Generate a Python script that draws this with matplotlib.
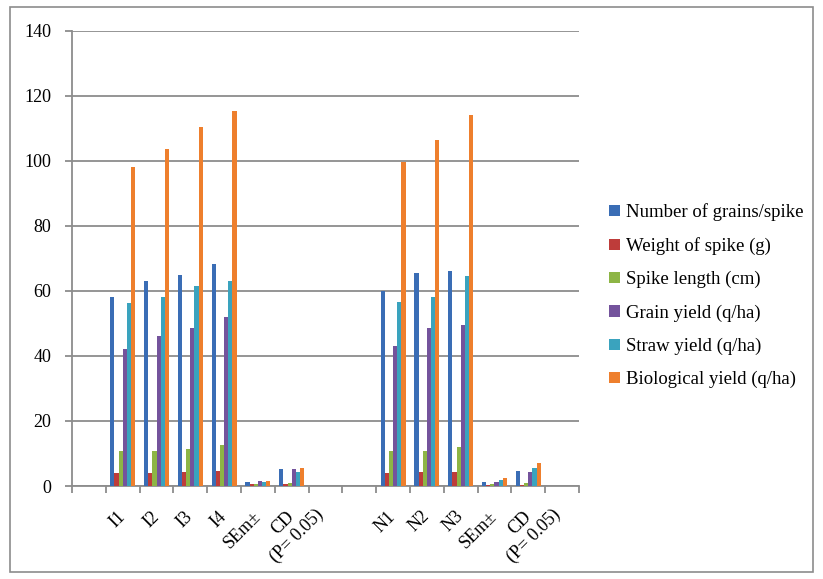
import numpy as np
import matplotlib
matplotlib.use('Agg')
import matplotlib.pyplot as plt
from matplotlib.patches import Rectangle

plt.rcParams['font.family'] = ['Liberation Serif', 'DejaVu Serif']

# categories along x (blank ones are empty slots in the original chart)
categories = ['', 'I1', 'I2', 'I3', 'I4', 'SEm\u00b1', 'CD\n(P= 0.05)', '', '',
              'N1', 'N2', 'N3', 'SEm\u00b1', 'CD\n(P= 0.05)', '']

series_names = ['Number of grains/spike', 'Weight of spike (g)', 'Spike length (cm)',
                'Grain yield (q/ha)', 'Straw yield (q/ha)', 'Biological yield (q/ha)']

grains_spike = [np.nan, 58.0, 63.2, 65.0, 68.4, 1.3, 5.2, np.nan, np.nan, 60.0, 65.5, 66.0, 1.3, 4.7, np.nan]
spike_weight = [np.nan, 3.9, 3.9, 4.3, 4.7, 0.5, 0.5, np.nan, np.nan, 3.9, 4.2, 4.2, 0.4, 0.4, np.nan]
spike_length = [np.nan, 10.8, 10.8, 11.3, 12.6, 0.6, 0.9, np.nan, np.nan, 10.8, 10.8, 12.1, 0.5, 0.9, np.nan]
grain_yield = [np.nan, 42.0, 46.0, 48.6, 52.0, 1.5, 5.2, np.nan, np.nan, 43.2, 48.6, 49.6, 1.3, 4.2, np.nan]
straw_yield = [np.nan, 56.2, 58.0, 61.6, 63.2, 1.2, 4.3, np.nan, np.nan, 56.6, 58.0, 64.5, 1.8, 5.6, np.nan]
bio_yield = [np.nan, 98.1, 103.8, 110.3, 115.5, 1.5, 5.6, np.nan, np.nan, 99.8, 106.5, 114.0, 2.4, 7.0, np.nan]

colors = ['#3A6DB5', '#BE3C3A', '#8DB545', '#74539C', '#3AA3BE', '#EE7F2D']

all_series = [grains_spike, spike_weight, spike_length, grain_yield, straw_yield, bio_yield]

fig = plt.figure(figsize=(8.23, 5.79), dpi=100)
ax = fig.add_axes([0.0875, 0.1606, 0.616, 0.786])

x = np.arange(len(categories))
w = 0.123
for i, (vals, name, c) in enumerate(zip(all_series, series_names, colors)):
    ax.bar(x + (i - 2.5) * w, vals, width=w, color=c, label=name, zorder=3)

ax.set_xlim(-0.5, len(categories) - 0.5)
ax.set_ylim(0, 140)
ax.set_yticks(range(0, 141, 20))
ax.yaxis.grid(True, color='#8c8c8c', linewidth=1.3, zorder=0)
ax.set_axisbelow(True)

# ticks at category boundaries
ax.set_xticks(np.arange(-0.5, len(categories), 1.0))
ax.set_xticklabels([])
ax.tick_params(axis='x', which='major', length=5, color='#8c8c8c', width=1.3)
ax.tick_params(axis='y', length=5, color='#8c8c8c', width=1.3, labelsize=13, pad=10)

# rotated category labels, right end centred under each category
fs = 13
for xi, lab in zip(x, categories):
    if not lab:
        continue
    lines = lab.split('\n')
    ax.annotate(lines[0], xy=(xi, 0), xycoords=('data', 'axes fraction'),
                xytext=(0, -20), textcoords='offset points', rotation=45,
                ha='right', va='center', rotation_mode='anchor', fontsize=fs)
    if len(lines) > 1:
        # second line centred on the first one, one line lower
        ax.annotate(lines[1], xy=(xi, 0), xycoords=('data', 'axes fraction'),
                    xytext=(4.0, -36), textcoords='offset points', rotation=45,
                    ha='center', va='center', rotation_mode='anchor', fontsize=fs)

for s in ['top', 'right']:
    ax.spines[s].set_visible(False)
for s in ['left', 'bottom']:
    ax.spines[s].set_color('#8c8c8c')
    ax.spines[s].set_linewidth(1.3)

fig.legend(loc='center left', bbox_to_anchor=(0.72, 0.489), frameon=False, fontsize=13.5,
           handlelength=0.55, handleheight=0.55, handletextpad=0.35, labelspacing=0.85)

# outer chart border
fig.patches.append(Rectangle((0.012, 0.012), 0.976, 0.976, transform=fig.transFigure,
                             fill=False, edgecolor='#8c8c8c', linewidth=1.2))

fig.savefig('out.png', dpi=100)
